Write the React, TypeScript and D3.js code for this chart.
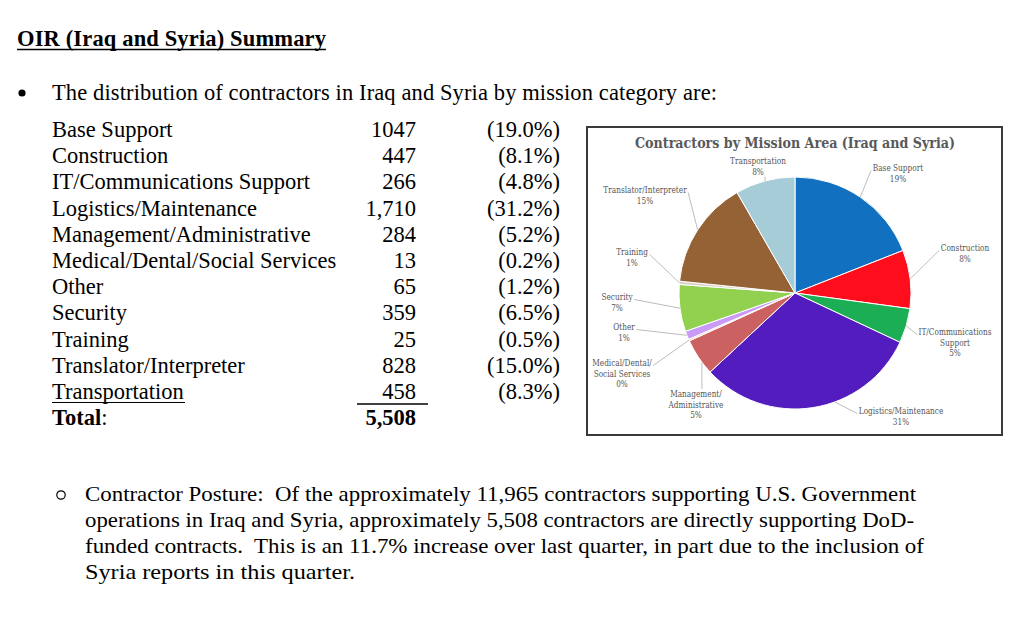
import React, { useEffect, useRef } from "react";
import * as d3 from "d3";

// ---------- data ----------
const categories = [
  "Base Support",
  "Construction",
  "IT/Communications Support",
  "Logistics/Maintenance",
  "Management/Administrative",
  "Medical/Dental/Social Services",
  "Other",
  "Security",
  "Training",
  "Translator/Interpreter",
  "Transportation",
];
const counts = [1047, 447, 266, 1710, 284, 13, 65, 359, 25, 828, 458];
const countLabels = ["1047", "447", "266", "1,710", "284", "13", "65", "359", "25", "828", "458"];
const shares = [19.0, 8.1, 4.8, 31.2, 5.2, 0.2, 1.2, 6.5, 0.5, 15.0, 8.3];
const totalLabel = "5,508";
const pieLabelLines = [
  ["Base Support"],
  ["Construction"],
  ["IT/Communications", "Support"],
  ["Logistics/Maintenance"],
  ["Management/", "Administrative"],
  ["Medical/Dental/", "Social Services"],
  ["Other"],
  ["Security"],
  ["Training"],
  ["Translator/Interpreter"],
  ["Transportation"],
];
const piePercentLabels = ["19%", "8%", "5%", "31%", "5%", "0%", "1%", "7%", "1%", "15%", "8%"];
const chartTitle = "Contractors by Mission Area (Iraq and Syria)";
const heading = "OIR (Iraq and Syria) Summary";
const bulletLine = "The distribution of contractors in Iraq and Syria by mission category are:";
const paragraphLines = [
  "Contractor Posture:  Of the approximately 11,965 contractors supporting U.S. Government",
  "operations in Iraq and Syria, approximately 5,508 contractors are directly supporting DoD-",
  "funded contracts.  This is an 11.7% increase over last quarter, in part due to the inclusion of",
  "Syria reports in this quarter.",
];

// ---------- styling / layout ----------
const sliceColors = [
  "#1170C0", "#FE0D1D", "#1BAE55", "#531CBE", "#CC6161",
  "#F2CFA6", "#C99BF6", "#92D050", "#D8D2C6", "#956235", "#A6CCD8",
];
// label block placement relative to pie centre (first line centre), attach side, leader position in slice
const labelLayout: { dx: number; dy: number; side: string; at: number }[] = [
  { dx: 103, dy: -125, side: "L", at: 0.5 },
  { dx: 170, dy: -45, side: "L", at: 0.5 },
  { dx: 160, dy: 39, side: "L", at: 0.5 },
  { dx: 106, dy: 118, side: "L", at: 0.4 },
  { dx: -99, dy: 101, side: "T", at: 0.34 },
  { dx: -173, dy: 70, side: "R", at: 0.5 },
  { dx: -171, dy: 34, side: "R", at: 0.5 },
  { dx: -178, dy: 4, side: "R", at: 0.5 },
  { dx: -163, dy: -41, side: "R", at: 0.5 },
  { dx: -150, dy: -103, side: "R", at: 0.5 },
  { dx: -37, dy: -132, side: "B", at: 0.5 },
];

const DOC_FONT = "'Liberation Serif', 'Times New Roman', serif";
const CHART_FONT = "'DejaVu Serif', serif";

function PieChart() {
  const ref = useRef<SVGGElement | null>(null);
  useEffect(() => {
    const g = d3.select(ref.current);
    g.selectAll("*").remove();
    const cx = 795, cy = 293, R = 116;
    const lineH = 10.5;
    const sx = 0.8;

    g.append("rect")
      .attr("x", 587).attr("y", 127).attr("width", 415).attr("height", 308)
      .attr("fill", "#fff").attr("stroke", "#3a3a3a").attr("stroke-width", 2);

    g.append("text")
      .attr("x", cx).attr("y", 148)
      .attr("text-anchor", "middle")
      .attr("font-family", CHART_FONT).attr("font-weight", "bold")
      .attr("font-size", 15).attr("fill", "#595959")
      .attr("textLength", 320).attr("lengthAdjust", "spacingAndGlyphs")
      .text(chartTitle);

    const pie = d3.pie<number>().sort(null).value((d) => d);
    const arcs = pie(counts);
    const arc = d3.arc<d3.PieArcDatum<number>>().innerRadius(0).outerRadius(R);

    const pg = g.append("g").attr("transform", `translate(${cx},${cy})`);
    pg.selectAll("path")
      .data(arcs)
      .join("path")
      .attr("d", arc as any)
      .attr("fill", (_d, i) => sliceColors[i])
      .attr("stroke", "#fff")
      .attr("stroke-width", 1);

    const leaders = g.append("g");
    arcs.forEach((a, i) => {
      const L = labelLayout[i];
      const gx = cx + L.dx, gy = cy + L.dy;
      const lines = [...pieLabelLines[i], piePercentLabels[i]];
      const lg = g.append("g").attr("transform", `translate(${gx},${gy}) scale(${sx},1)`);
      lines.forEach((t, k) => {
        lg.append("text")
          .attr("x", 0).attr("y", k * lineH + 3.3)
          .attr("text-anchor", "middle")
          .attr("font-family", CHART_FONT).attr("font-size", 9.2)
          .attr("fill", "#555")
          .text(t);
      });
      const bb = (lg.node() as SVGGElement).getBBox();
      const hw = (bb.width * sx) / 2;
      const ang = a.startAngle + L.at * (a.endAngle - a.startAngle);
      const ex = cx + R * Math.sin(ang), ey = cy - R * Math.cos(ang);
      let ax = gx, ay = gy;
      if (L.side === "L") { ax = gx - hw - 1.5; ay = gy + 2.5; }
      else if (L.side === "R") { ax = gx + hw + 1.5; ay = gy + 2.5; }
      else if (L.side === "B") { ax = Math.max(gx - hw, Math.min(gx + hw, ex)); ay = gy + (lines.length - 1) * lineH + 5; }
      else { ax = Math.max(gx - hw, Math.min(gx + hw, ex)); ay = gy - 5; }
      leaders.append("line")
        .attr("x1", ax).attr("y1", ay).attr("x2", ex).attr("y2", ey)
        .attr("stroke", "#BDBDBD").attr("stroke-width", 1);
    });
  }, []);
  return <g ref={ref} />;
}

export default function App() {
  const row0 = 137;
  const rowStep = 26.2;
  const fs = 22.5;
  const numX = 416;
  const pctX = 560;
  const labelX = 52;
  const n = categories.length;
  return (
    <svg width={1024} height={617} style={{ position: "absolute", left: 0, top: 0, background: "#fff" }}>
      <rect x={0} y={0} width={1024} height={617} fill="#fff" />
      {/* heading */}
      <text x={17} y={46} fontFamily={DOC_FONT} fontWeight="bold" fontSize={fs} fill="#000"
        textLength={309} lengthAdjust="spacing">{heading}</text>
      <line x1={17} x2={326} y1={49.5} y2={49.5} stroke="#000" strokeWidth={1.5} />
      {/* bullet */}
      <circle cx={22} cy={93} r={3.6} fill="#000" />
      <text x={52} y={100} fontFamily={DOC_FONT} fontSize={fs} fill="#000"
        textLength={665} lengthAdjust="spacing">{bulletLine}</text>
      {/* table */}
      {categories.map((c, i) => (
        <g key={c}>
          <text x={labelX} y={row0 + i * rowStep} fontFamily={DOC_FONT} fontSize={fs} fill="#000">{c}</text>
          <text x={numX} y={row0 + i * rowStep} fontFamily={DOC_FONT} fontSize={fs} fill="#000" textAnchor="end">{countLabels[i]}</text>
          <text x={pctX} y={row0 + i * rowStep} fontFamily={DOC_FONT} fontSize={fs} fill="#000" textAnchor="end">{`(${d3.format(".1f")(shares[i])}%)`}</text>
        </g>
      ))}
      <line x1={labelX} x2={185} y1={row0 + (n - 1) * rowStep + 3.5} y2={row0 + (n - 1) * rowStep + 3.5} stroke="#000" strokeWidth={1.2} />
      <line x1={357} x2={428} y1={row0 + (n - 1) * rowStep + 5} y2={row0 + (n - 1) * rowStep + 5} stroke="#000" strokeWidth={1.5} />
      <text x={labelX} y={row0 + n * rowStep} fontFamily={DOC_FONT} fontSize={fs} fill="#000">
        <tspan fontWeight="bold">Total</tspan>:
      </text>
      <text x={numX} y={row0 + n * rowStep} fontFamily={DOC_FONT} fontSize={fs} fontWeight="bold" fill="#000" textAnchor="end">{totalLabel}</text>
      {/* pie chart */}
      <PieChart />
      {/* paragraph */}
      <circle cx={61} cy={495} r={4.2} fill="none" stroke="#000" strokeWidth={1.2} />
      {paragraphLines.map((t, i) => (
        <text key={i} x={85} y={501 + i * 26} fontFamily={DOC_FONT} fontSize={21.5} fill="#000"
          style={{ whiteSpace: "pre" }}
          textLength={[831, 829, 839, 270][i]} lengthAdjust="spacingAndGlyphs">{t}</text>
      ))}
    </svg>
  );
}
